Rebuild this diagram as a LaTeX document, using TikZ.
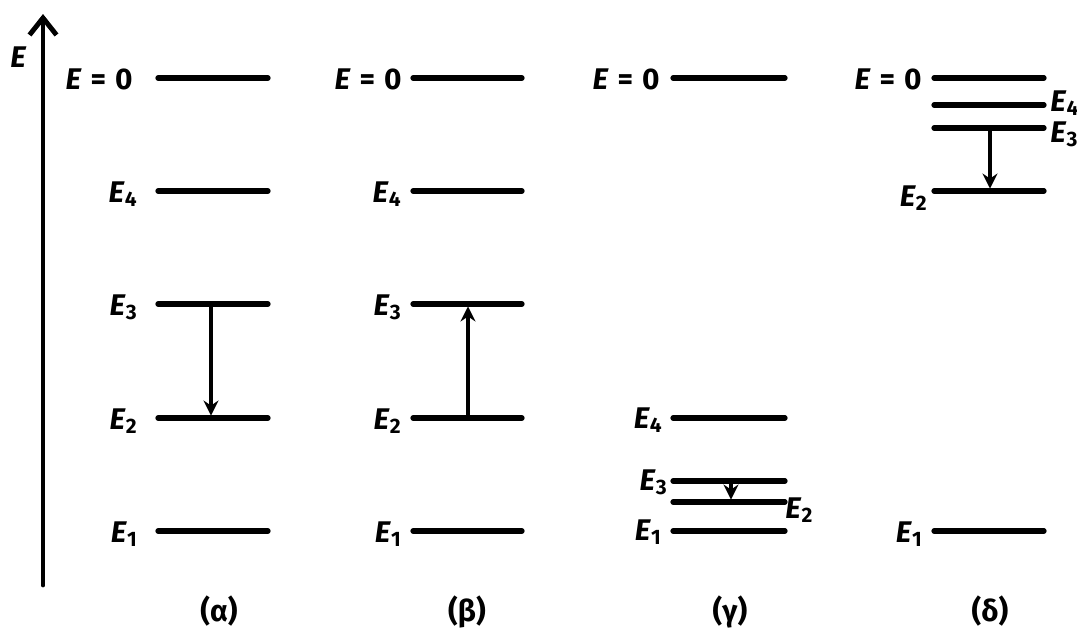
\documentclass[tikz,border=0pt]{standalone}
\usepackage{fontspec}
\setmainfont{Fira Sans}
\usetikzlibrary{arrows.meta}
\newcommand{\lvl}[1]{\textit{E}\textsubscript{#1}}
\newcommand{\zero}{\textit{E}\hspace{0.3em}=\hspace{0.3em}0}
\tikzset{level/.style={line width=3pt, line cap=round},
	trans/.style={line width=1.9pt, -{Stealth[length=3mm, width=3mm, inset=1mm]}, shorten >=1.4pt},
	axis/.style={line width=2.8pt, line cap=round, -{Straight Barb[length=3.4mm, width=5.4mm]}},
	lab/.style={anchor=base east, inner sep=0pt},
	rlab/.style={anchor=base west, inner sep=0pt},
	panel/.style={anchor=base, inner sep=0pt}}

\begin{document}
\begin{tikzpicture}[x=0.02cm, y=-0.02cm, font=\fontsize{17}{20}\selectfont\bfseries]
			\useasboundingbox (0,0) rectangle (1077,633);
			
			% energy axis
			\coordinate (axbot) at (43,585);
			\coordinate (axtop) at (43,14);
			\draw[axis] (axbot) -- (axtop);
			\node[lab] (axE) at (27,67) {\textit{E}};
			
			% (alpha)
			\draw[level] (158,78) -- (268,78);
			\draw[level] (158,191) -- (268,191);
			\draw[level] (158,304) -- (268,304);
			\draw[level] (158,418) -- (268,418);
			\draw[level] (158,531) -- (268,531);
			\node[lab] (a0) at (133,89) {\zero};
			\node[lab] (a4) at (138,202) {\lvl{4}};
			\node[lab] (a3) at (138,315) {\lvl{3}};
			\node[lab] (a2) at (138,429) {\lvl{2}};
			\node[lab] (a1) at (138,542) {\lvl{1}};
			\coordinate (a3t) at (211,304);
			\coordinate (a2t) at (211,418);
			\draw[trans] (a3t) -- (a2t);
			\node[panel] (capa) at (219,621) {(α)};
			
			% (beta)
			\draw[level] (413,78) -- (522,78);
			\draw[level] (413,191) -- (522,191);
			\draw[level] (413,304) -- (522,304);
			\draw[level] (413,418) -- (522,418);
			\draw[level] (413,531) -- (522,531);
			\node[lab] (b0) at (402,89) {\zero};
			\node[lab] (b4) at (402,202) {\lvl{4}};
			\node[lab] (b3) at (402,315) {\lvl{3}};
			\node[lab] (b2) at (402,429) {\lvl{2}};
			\node[lab] (b1) at (402,542) {\lvl{1}};
			\coordinate (b2t) at (468,418);
			\coordinate (b3t) at (468,304);
			\draw[trans] (b2t) -- (b3t);
			\node[panel] (capb) at (467,621) {(β)};
			
			% (gamma)
			\draw[level] (673,78) -- (785,78);
			\draw[level] (673,418) -- (785,418);
			\draw[level] (673,481) -- (785,481);
			\draw[level] (673,502) -- (785,502);
			\draw[level] (673,531) -- (785,531);
			\node[lab] (g0) at (660,89) {\zero};
			\node[lab] (g4) at (663,428) {\lvl{4}};
			\node[lab] (g3) at (668,490) {\lvl{3}};
			\node[rlab] (g2) at (785,518) {\lvl{2}};
			\node[lab] (g1) at (662,540) {\lvl{1}};
			\coordinate (g3t) at (731,481);
			\coordinate (g2t) at (731,502);
			\draw[trans] (g3t) -- (g2t);
			\node[panel] (capg) at (730,621) {(γ)};
			
			% (delta)
			\draw[level] (934,78) -- (1044,78);
			\draw[level] (934,105) -- (1044,105);
			\draw[level] (934,128) -- (1044,128);
			\draw[level] (934,191) -- (1044,191);
			\draw[level] (934,531) -- (1044,531);
			\node[lab] (d0) at (922,89) {\zero};
			\node[rlab] (d4) at (1050,111) {\lvl{4}};
			\node[rlab] (d3) at (1050,142) {\lvl{3}};
			\node[lab] (d2) at (928,206) {\lvl{2}};
			\node[lab] (d1) at (923,542) {\lvl{1}};
			\coordinate (d3t) at (990,128);
			\coordinate (d2t) at (990,191);
			\draw[trans] (d3t) -- (d2t);
			\node[panel] (capd) at (990,621) {(δ)};
\end{tikzpicture}
\end{document}
